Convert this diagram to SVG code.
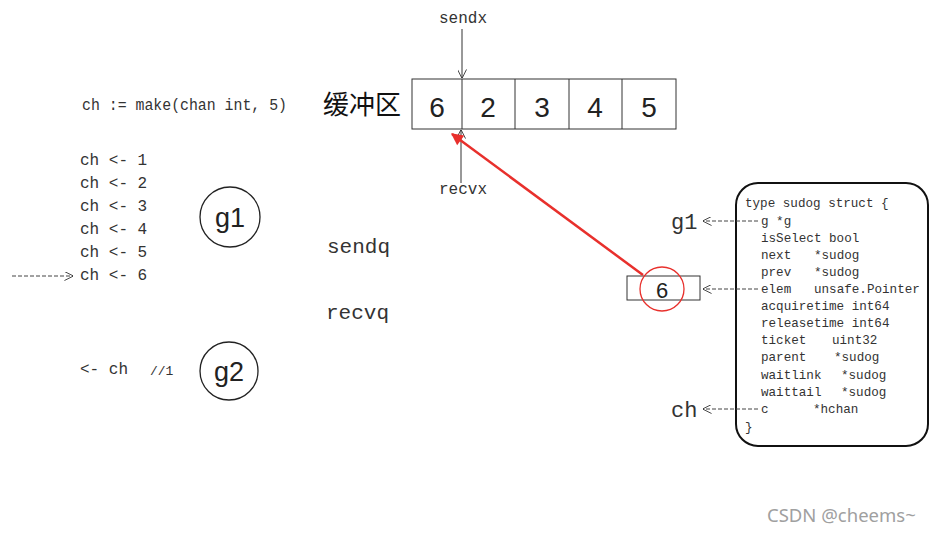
<svg xmlns="http://www.w3.org/2000/svg" width="933" height="533" viewBox="0 0 933 533">
<style>
.mono{font-family:"Liberation Mono","DejaVu Sans Mono",monospace;fill:#333}
.sans{font-family:"Liberation Sans",Arial,sans-serif;fill:#222}
.cjk{font-family:"Noto Sans CJK SC","Noto Sans CJK JP",serif;fill:#111}
.ln{stroke:#333;stroke-width:1;fill:none}
.dash{stroke:#444;stroke-width:1;fill:none;stroke-dasharray:4 2}
.st{font-size:12.6px}
</style>
<defs>
<marker id="open" viewBox="0 0 10 10" refX="9.5" refY="5" markerWidth="9" markerHeight="9" orient="auto" markerUnits="userSpaceOnUse">
<path d="M0,0 L10,5 L0,10" fill="none" stroke="#333" stroke-width="1"/>
</marker>
<marker id="red" viewBox="0 0 10 10" refX="9" refY="5" markerWidth="14" markerHeight="12" orient="auto" markerUnits="userSpaceOnUse">
<path d="M0,0 L10,5 L0,10 z" fill="#e8302c"/>
</marker>
</defs>
<rect width="933" height="533" fill="#fff"/>

<g id="buffer">
<text class="cjk" x="323" y="114" font-size="26">缓冲区</text>
<rect x="412" y="79" width="264" height="50" fill="none" stroke="#333" stroke-width="1"/>
<path class="ln" d="M462,79V129M515,79V129M569,79V129M622,79V129"/>
<g class="sans" font-size="28" text-anchor="middle">
<text x="437" y="117">6</text><text x="488" y="117">2</text><text x="542" y="117">3</text><text x="595" y="117">4</text><text x="649" y="117">5</text>
</g>
</g>

<g id="sendx"><text class="mono" x="463" y="23" font-size="16" text-anchor="middle">sendx</text></g>
<g id="recvx"><text class="mono" x="463" y="194" font-size="16" text-anchor="middle">recvx</text></g>

<g id="code">
<text class="mono" x="82" y="110" font-size="16" textLength="205" lengthAdjust="spacingAndGlyphs">ch := make(chan int, 5)</text>
<text class="mono" x="80" y="165" font-size="16">ch &lt;- 1</text>
<text class="mono" x="80" y="188" font-size="16">ch &lt;- 2</text>
<text class="mono" x="80" y="211" font-size="16">ch &lt;- 3</text>
<text class="mono" x="80" y="234" font-size="16">ch &lt;- 4</text>
<text class="mono" x="80" y="257" font-size="16">ch &lt;- 5</text>
<text class="mono" x="80" y="280" font-size="16">ch &lt;- 6</text>
<text class="mono" x="80" y="374" font-size="16">&lt;- ch</text>
<text class="mono" x="150" y="375" font-size="13">//1</text>
</g>

<g id="g1"><circle cx="230" cy="217" r="30" fill="none" stroke="#222" stroke-width="1.3"/><text class="sans" x="230" y="227" font-size="27" text-anchor="middle">g1</text></g>
<g id="g2"><circle cx="229" cy="371" r="29" fill="none" stroke="#222" stroke-width="1.3"/><text class="sans" x="229" y="381" font-size="27" text-anchor="middle">g2</text></g>

<g id="sendq"><text class="mono" x="327" y="253" font-size="21">sendq</text></g>
<g id="recvq"><text class="mono" x="326" y="319" font-size="21">recvq</text></g>

<g id="elem-box">
<rect x="627" y="276" width="73" height="24" fill="none" stroke="#333" stroke-width="1"/>
<text class="sans" x="662" y="298" font-size="22" text-anchor="middle">6</text>
<circle cx="662" cy="289" r="22" fill="none" stroke="#e8302c" stroke-width="1.3"/>
</g>

<g id="g1-label"><text class="mono" x="671" y="229" font-size="22">g1</text></g>
<g id="ch-label"><text class="mono" x="671" y="417" font-size="22">ch</text></g>

<g id="sudog">
<rect x="736" y="183" width="192" height="263" rx="22" fill="none" stroke="#111" stroke-width="2"/>
<g class="mono st">
<text x="745" y="207">type sudog struct {</text>
<text x="761" y="225">g *g</text>
<text x="761" y="242">isSelect bool</text>
<text x="761" y="259">next</text><text x="814" y="259">*sudog</text>
<text x="761" y="276">prev</text><text x="814" y="276">*sudog</text>
<text x="761" y="293">elem</text><text x="814" y="293">unsafe.Pointer</text>
<text x="761" y="310">acquiretime int64</text>
<text x="761" y="327">releasetime int64</text>
<text x="761" y="344">ticket</text><text x="832" y="344">uint32</text>
<text x="761" y="361">parent</text><text x="834" y="361">*sudog</text>
<text x="761" y="379">waitlink</text><text x="841" y="379">*sudog</text>
<text x="761" y="396">waittail</text><text x="841" y="396">*sudog</text>
<text x="761" y="413">c</text><text x="813" y="413">*hchan</text>
<text x="745" y="431">}</text>
</g>
</g>

<g id="connectors">
<line class="ln" x1="462" y1="29" x2="462" y2="78" marker-end="url(#open)"/>
<line class="ln" x1="461" y1="183" x2="461" y2="130" marker-end="url(#open)"/>
<line class="dash" x1="12" y1="276" x2="73" y2="276" marker-end="url(#open)"/>
<line class="dash" x1="758" y1="221" x2="703" y2="221" marker-end="url(#open)"/>
<line class="dash" x1="758" y1="289" x2="703" y2="289" marker-end="url(#open)"/>
<line class="dash" x1="758" y1="409" x2="703" y2="409" marker-end="url(#open)"/>
<line x1="643" y1="275" x2="452" y2="134" stroke="#e8302c" stroke-width="2.5" marker-end="url(#red)"/>
</g>

<g id="watermark"><text x="767" y="522" font-family="'Noto Sans','Liberation Sans',sans-serif" font-size="18.5" fill="#a0a0a0">CSDN @cheems~</text></g>
</svg>
